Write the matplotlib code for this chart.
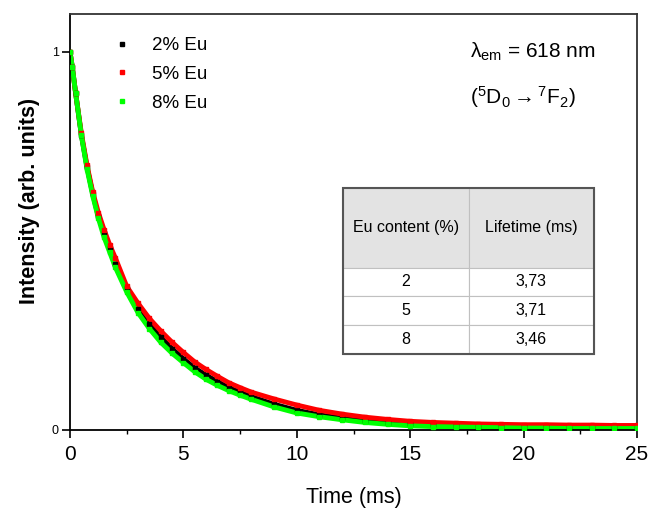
import matplotlib
matplotlib.use("Agg")
import matplotlib.pyplot as plt
from matplotlib.patches import Rectangle

plt.rcParams['font.family'] = ['Liberation Sans', 'DejaVu Sans']
plt.rcParams['mathtext.fontset'] = 'custom'
plt.rcParams['mathtext.rm'] = 'Liberation Sans'
plt.rcParams['mathtext.it'] = 'Liberation Sans:italic'

time_ms = [0, 0.1, 0.25, 0.5, 0.75, 1.0, 1.25, 1.5, 1.75, 2.0, 2.5, 3.0, 3.5, 4.0, 4.5,
           5.0, 5.5, 6.0, 6.5, 7.0, 7.5, 8.0, 9.0, 10.0, 11.0, 12.0, 13.0, 14.0, 15.0,
           16.0, 17.0, 18.0, 19.0, 20.0, 21.0, 22.0, 23.0, 24.0, 25.0]
eu2 = [1.0, 0.96, 0.89, 0.78, 0.695, 0.625, 0.565, 0.52, 0.48, 0.44, 0.375, 0.32, 0.28,
       0.245, 0.215, 0.188, 0.164, 0.145, 0.128, 0.112, 0.1, 0.088, 0.068, 0.052, 0.04,
       0.031, 0.024, 0.019, 0.015, 0.012, 0.01, 0.009, 0.008, 0.007, 0.007, 0.006, 0.006,
       0.006, 0.006]
eu5 = [1.0, 0.96, 0.89, 0.785, 0.70, 0.63, 0.575, 0.53, 0.49, 0.455, 0.38, 0.335, 0.295,
       0.262, 0.232, 0.205, 0.18, 0.16, 0.142, 0.125, 0.112, 0.10, 0.082, 0.066, 0.052,
       0.042, 0.034, 0.028, 0.023, 0.02, 0.018, 0.016, 0.015, 0.014, 0.014, 0.013, 0.013,
       0.012, 0.012]
eu8 = [1.0, 0.96, 0.89, 0.78, 0.69, 0.62, 0.56, 0.51, 0.47, 0.43, 0.365, 0.31, 0.268,
       0.232, 0.203, 0.178, 0.154, 0.134, 0.118, 0.104, 0.092, 0.081, 0.061, 0.045, 0.035,
       0.027, 0.02, 0.015, 0.011, 0.009, 0.008, 0.007, 0.006, 0.005, 0.005, 0.004, 0.004,
       0.004, 0.004]

series_labels = ['2% Eu', '5% Eu', '8% Eu']
series_colors = ['#000000', '#ff0000', '#00ff00']

table_header = ['Eu content (%)', 'Lifetime (ms)']
eu_content = ['2', '5', '8']
lifetimes = ['3,73', '3,71', '3,46']

fig = plt.figure(figsize=(6.51, 5.09), dpi=100)
ax = fig.add_axes([70/651, 1-430/509, 567/651, 416/509])

for vals, lab, col in zip([eu2, eu5, eu8], series_labels, series_colors):
    ax.plot(time_ms, vals, color=col, lw=3.5, solid_capstyle='round', zorder=2)
    ax.plot(time_ms, vals, ls='none', marker='s', ms=3, color=col, label=lab, zorder=3)

ax.set_xlim(0, 25)
ax.set_ylim(0, 1.1)
ax.set_xticks([0, 5, 10, 15, 20, 25])
ax.set_xticks([2.5, 7.5, 12.5, 17.5, 22.5], minor=True)
ax.set_yticks([0, 1])
ax.set_yticklabels(['0', '1'])
ax.tick_params(axis='x', which='major', direction='out', length=6, width=1.2,
               labelsize=15, pad=5)
ax.tick_params(axis='x', which='minor', direction='out', length=3, width=1.0)
ax.tick_params(axis='y', which='major', direction='out', length=6, width=1.2,
               labelsize=9, pad=2)
ax.tick_params(top=False, right=False)
for s in ax.spines.values():
    s.set_linewidth(1.3)
    s.set_color('#333333')
ax.spines['left'].set_color('black')
ax.spines['bottom'].set_color('black')

ax.set_xlabel('Time (ms)', fontsize=15.5)
ax.xaxis.set_label_coords(0.5, -0.162)
ax.set_ylabel('Intensity (arb. units)', fontsize=15.5, fontweight='bold')
ax.yaxis.set_label_coords(-0.072, 0.55)
ax.yaxis.label.set_va('center')
ax.xaxis.label.set_va('center')

leg = ax.legend(loc='upper left', bbox_to_anchor=(0.045, 0.985), frameon=False,
                fontsize=13.5, markerscale=1.0, handlelength=1.0, handletextpad=1.1,
                labelspacing=0.62)

ax.text(0.705, 0.91, r'$\mathrm{\lambda}_{\mathrm{em}}$ = 618 nm', transform=ax.transAxes,
        fontsize=15, ha='left', va='center')
ax.text(0.705, 0.80, r'($^{5}$D$_{0}$$\rightarrow$$^{7}$F$_{2}$)', transform=ax.transAxes,
        fontsize=15, ha='left', va='center')

# table
cell_text = [[c, l] for c, l in zip(eu_content, lifetimes)]
x0 = (343-70)/567
w = (594-343)/567
y0 = (430-354)/416
h = (354-188)/416
tab = ax.table(cellText=cell_text, colLabels=table_header, cellLoc='center',
               bbox=[x0, y0, w, h], zorder=5)
tab.auto_set_font_size(False)
tab.set_fontsize(11.5)
for (r, c), cell in tab.get_celld().items():
    cell.set_edgecolor('#c0c0c0')
    cell.set_linewidth(0.8)
    cell.PAD = 0.02
    if r == 0:
        cell.set_height(80)
        cell.set_facecolor('#e3e3e3')
    else:
        cell.set_height(29)
        cell.set_facecolor('white')
ax.add_patch(Rectangle((x0, y0), w, h, transform=ax.transAxes, fill=False,
                       edgecolor='#555555', lw=1.5, zorder=6))

fig.savefig('out.png', dpi=100)
